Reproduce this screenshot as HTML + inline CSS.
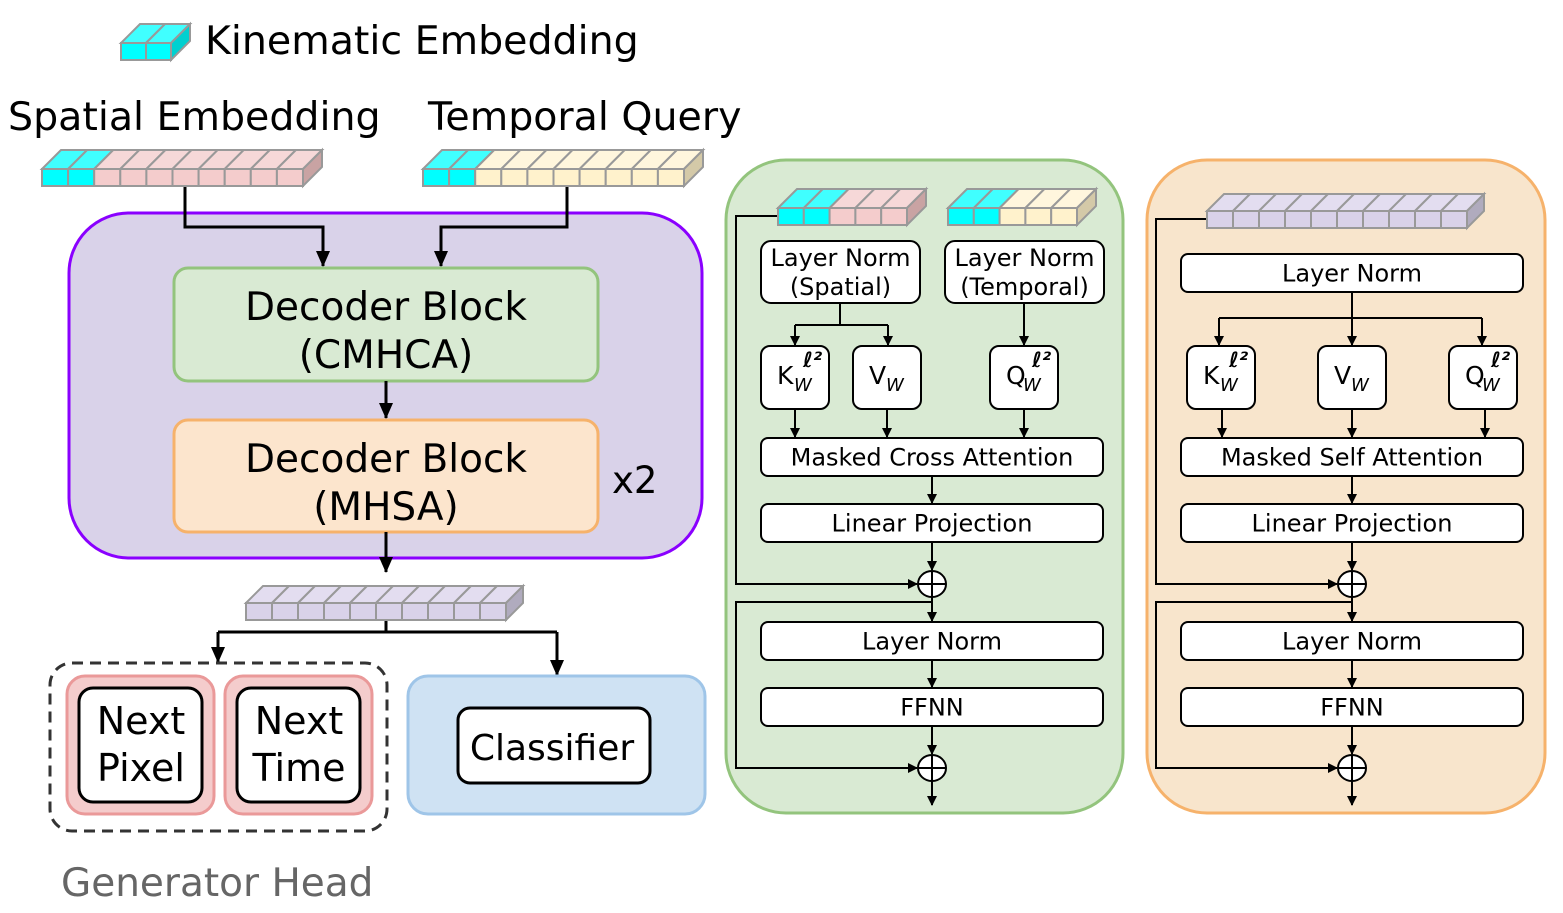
<!DOCTYPE html>
<html><head><meta charset="utf-8"><style>
html,body{margin:0;padding:0;background:#fff}
svg{display:block}
text{font-family:"DejaVu Sans","Liberation Sans",sans-serif;fill:#000}
</style></head><body>
<svg id="s" width="1563" height="913" viewBox="0 0 1563 913" xmlns="http://www.w3.org/2000/svg">
<defs>
<marker id="a" markerWidth="10" markerHeight="10" refX="9" refY="5" orient="auto" markerUnits="userSpaceOnUse"><path d="M0,0 L10,5 L0,10 z" fill="#000"/></marker>
<marker id="A" markerWidth="16" markerHeight="16" refX="15" refY="8" orient="auto" markerUnits="userSpaceOnUse"><path d="M0,1 L16,8 L0,15 z" fill="#000"/></marker>
</defs>
<rect x="69" y="213" width="633" height="345" rx="60" fill="#d9d2e9" stroke="#8a00ff" stroke-width="3"/>
<rect x="174" y="268" width="424" height="113" rx="14" fill="#d9ead3" stroke="#93c47d" stroke-width="3"/>
<text x="386" y="320" font-size="39" text-anchor="middle">Decoder Block</text>
<text x="386" y="368" font-size="39" text-anchor="middle">(CMHCA)</text>
<rect x="174" y="420" width="424" height="112" rx="14" fill="#fce5cd" stroke="#f6b26b" stroke-width="3"/>
<text x="386" y="472" font-size="39" text-anchor="middle">Decoder Block</text>
<text x="386" y="520" font-size="39" text-anchor="middle">(MHSA)</text>
<text x="612" y="493" font-size="37">x2</text>
<g fill="none" stroke="#000" stroke-width="3">
<path d="M185,186 V227 H323 V266" marker-end="url(#A)"/>
<path d="M567,186 V227 H441 V266" marker-end="url(#A)"/>
<path d="M386,381 V418" marker-end="url(#A)"/>
<path d="M386,532 V572" marker-end="url(#A)"/>
<path d="M386,620 V632"/>
<path d="M218,632 H557"/>
<path d="M218,632 V662" marker-end="url(#A)"/>
<path d="M557,632 V675" marker-end="url(#A)"/>
</g>
<rect x="50" y="663" width="337" height="168" rx="22" fill="none" stroke="#333" stroke-width="3" stroke-dasharray="11,7"/>
<rect x="67" y="676" width="147" height="138" rx="18" fill="#f4cccc" stroke="#ea9999" stroke-width="3"/>
<rect x="79" y="688" width="123" height="114" rx="14" fill="#fff" stroke="#000" stroke-width="3"/>
<text x="141" y="734" font-size="38" text-anchor="middle">Next</text>
<text x="141" y="781" font-size="38" text-anchor="middle">Pixel</text>
<rect x="225" y="676" width="147" height="138" rx="18" fill="#f4cccc" stroke="#ea9999" stroke-width="3"/>
<rect x="237" y="688" width="123" height="114" rx="14" fill="#fff" stroke="#000" stroke-width="3"/>
<text x="299" y="734" font-size="38" text-anchor="middle">Next</text>
<text x="299" y="781" font-size="38" text-anchor="middle">Time</text>
<rect x="408" y="676" width="297" height="138" rx="20" fill="#cfe2f3" stroke="#9fc5e8" stroke-width="3"/>
<rect x="458" y="708" width="192" height="75" rx="12" fill="#fff" stroke="#000" stroke-width="3"/>
<text x="552" y="760" font-size="36" text-anchor="middle">Classifier</text>
<text x="61" y="896" font-size="39" style="fill:#666">Generator Head</text>
<text x="205" y="54" font-size="39.5">Kinematic Embedding</text>
<text x="8" y="130" font-size="39.5">Spatial Embedding</text>
<text x="428" y="130" font-size="39.5">Temporal Query</text>
<rect x="726" y="160" width="397" height="653" rx="60" fill="#d9ead3" stroke="#93c47d" stroke-width="3"/>
<rect x="1147" y="160" width="398" height="653" rx="60" fill="#f8e5cc" stroke="#f6b26b" stroke-width="3"/>
<g id="boxes"></g>
<g id="strips"></g>
</svg>
<script>
var NS="http://www.w3.org/2000/svg",S=document.getElementById('strips'),B=document.getElementById('boxes');
function el(p,t,a,txt){var e=document.createElementNS(NS,t);for(var k in a)e.setAttribute(k,a[k]);if(txt!=null)e.textContent=txt;p.appendChild(e);return e;}
var C={c:["#00ffff","#40ffff","#00d0d0"],p:["#f4cccc","#f6d8d8","#c9a3a3"],y:["#fff2cc","#fff6dd","#d4c9a8"],l:["#d9d2e9","#e3ddf0","#b0abbe"]};
function strip(x,y,cw,h,d,cols){var n=cols.length,w=cw*n;
 for(var i=0;i<n;i++){var c=C[cols[i]],x0=x+i*cw;
  el(S,'path',{d:'M'+x0+','+y+' L'+(x0+d)+','+(y-d)+' L'+(x0+cw+d)+','+(y-d)+' L'+(x0+cw)+','+y+' z',fill:c[1],stroke:'#999','stroke-width':2});
  el(S,'rect',{x:x0,y:y,width:cw,height:h,fill:c[0],stroke:'#999','stroke-width':2});}
 var c=C[cols[n-1]];
 el(S,'path',{d:'M'+(x+w)+','+y+' L'+(x+w+d)+','+(y-d)+' L'+(x+w+d)+','+(y-d+h)+' L'+(x+w)+','+(y+h)+' z',fill:c[2],stroke:'#999','stroke-width':2});}
strip(121,43,25,17,19,['c','c']);
strip(42,169,26.1,17,19,['c','c','p','p','p','p','p','p','p','p']);
strip(423,169,26.1,17,19,['c','c','y','y','y','y','y','y','y','y']);
strip(778,208,25.8,17,19,['c','c','p','p','p']);
strip(948,208,25.8,17,19,['c','c','y','y','y']);
strip(1207,211,26,17,17,['l','l','l','l','l','l','l','l','l','l']);
strip(246,603,26,17,17,['l','l','l','l','l','l','l','l','l','l']);
function box(x,y,w,h,lines,fs,rx){el(B,'rect',{x:x,y:y,width:w,height:h,rx:rx||7,fill:'#fff',stroke:'#000','stroke-width':2});
 var n=lines.length;for(var i=0;i<n;i++)el(B,'text',{x:x+w/2,y:y+h/2+fs*0.36+(i-(n-1)/2)*fs*1.2,'font-size':fs,'text-anchor':'middle'},lines[i]);}
function kqv(x,y,L,sup){el(B,'rect',{x:x,y:y,width:68,height:63,rx:9,fill:'#fff',stroke:'#000','stroke-width':2});
 el(B,'text',{x:x+16,y:y+38,'font-size':25},L);el(B,'text',{x:x+33,y:y+45,'font-size':18,'font-style':'italic'},'W');
 if(sup)el(B,'text',{x:x+42,y:y+21,'font-size':21,'font-style':'italic','font-weight':'bold'},'ℓ²');}
function line(d,arr){el(B,'path',{d:d,fill:'none',stroke:'#000','stroke-width':2,'marker-end':arr?'url(#a)':''});}
function plus(cx,cy){el(B,'ellipse',{cx:cx,cy:cy,rx:14,ry:13,fill:'#fff',stroke:'#000','stroke-width':2});line('M'+(cx-14)+','+cy+' H'+(cx+14));line('M'+cx+','+(cy-13)+' V'+(cy+13));}
function tail(o,sx,sy){var m=932+o;
 box(761+o,504,342,38,['Linear Projection'],24);
 line('M'+m+',476 V503',1);line('M'+m+',542 V570',1);
 line('M'+sx+','+sy+' H'+(736+o)+' V584 H'+(m-15),1);
 plus(m,584);
 line('M'+m+',597 V621',1);line('M'+m+',602 H'+(736+o)+' V768 H'+(m-15),1);
 box(761+o,622,342,38,['Layer Norm'],24);line('M'+m+',660 V687',1);
 box(761+o,688,342,38,['FFNN'],24);line('M'+m+',726 V754',1);
 plus(m,768);line('M'+m+',781 V805',1);}
box(761,241,159,62,['Layer Norm','(Spatial)'],24,10);
box(945,241,159,62,['Layer Norm','(Temporal)'],24,10);
line('M840,303 V325');line('M795,325 H888');line('M795,325 V345',1);line('M888,325 V345',1);line('M1024,303 V345',1);
kqv(761,346,'K',1);kqv(853,346,'V',0);kqv(990,346,'Q',1);
line('M795,409 V437',1);line('M887,409 V437',1);line('M1024,409 V437',1);
box(761,438,342,38,['Masked Cross Attention'],24);
tail(0,778,216);
box(1181,254,342,38,['Layer Norm'],24);
line('M1352,292 V345',1);line('M1219,318 H1482');line('M1219,318 V345',1);line('M1482,318 V345',1);
kqv(1187,346,'K',1);kqv(1318,346,'V',0);kqv(1449,346,'Q',1);
line('M1222,409 V437',1);line('M1352,409 V437',1);line('M1485,409 V437',1);
box(1181,438,342,38,['Masked Self Attention'],24);
tail(420,1207,219);
</script>
</body></html>
